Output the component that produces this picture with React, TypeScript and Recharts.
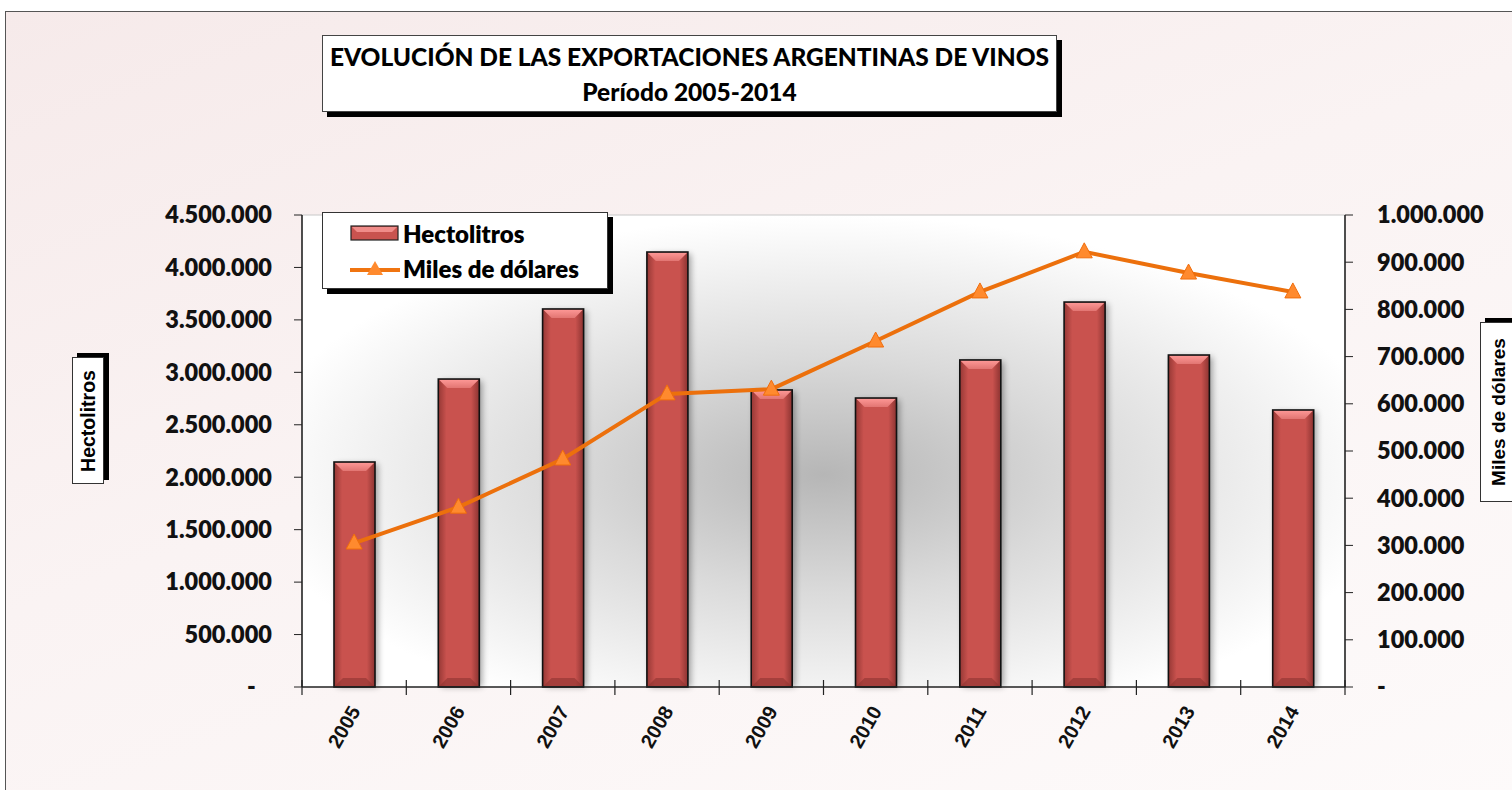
import React from "react";
import {
  ComposedChart,
  Bar,
  Line,
  XAxis,
  YAxis,
  CartesianGrid,
  Legend,
  ReferenceLine,
} from "recharts";

const years = ["2005", "2006", "2007", "2008", "2009", "2010", "2011", "2012", "2013", "2014"];
const hectolitros = [2145000, 2936000, 3604000, 4147000, 2832000, 2755000, 3118000, 3670000, 3165000, 2641000];
const milesDolares = [305000, 381000, 483000, 621000, 631000, 733000, 837000, 922000, 877000, 837000];
const leftTicks = [0, 500000, 1000000, 1500000, 2000000, 2500000, 3000000, 3500000, 4000000, 4500000];
const rightTicks = [0, 100000, 200000, 300000, 400000, 500000, 600000, 700000, 800000, 900000, 1000000];

const W = 1512;
const H = 790;
const PLOT_LEFT = 302;
const PLOT_RIGHT = 1345;
const HALF_BAND = (PLOT_RIGHT - PLOT_LEFT) / years.length / 2;

const calibri = "Lato, 'Open Sans', sans-serif";
const arial = "'Liberation Sans', Arial, sans-serif";

const fmt = (v: number) => {
  if (v === 0) return "-";
  return String(v).replace(/\B(?=(\d{3})+(?!\d))/g, ".");
};

const data = years.map((y, i) => ({
  year: y,
  hl: hectolitros[i],
  usd: milesDolares[i],
}));

function BevelBar(props: any) {
  const { x, y, width, height } = props;
  if (!height || height <= 0) return null;
  const b = Math.min(9, width / 4);
  return (
    <g>
      <rect x={x + 3} y={y + 2} width={width} height={height - 2} fill="#000" opacity={0.35} filter="url(#barShadow)" />
      <rect x={x} y={y} width={width} height={height} fill="url(#barBody)" />
      <polygon
        points={`${x},${y} ${x + width},${y} ${x + width - b},${y + b} ${x + b},${y + b}`}
        fill="url(#barTop)"
      />
      <polygon
        points={`${x},${y + height} ${x + width},${y + height} ${x + width - b},${y + height - b} ${x + b},${y + height - b}`}
        fill="#8e3431"
        opacity={0.6}
      />
      <rect x={x} y={y} width={width} height={height} fill="none" stroke="#111" strokeWidth={1.6} />
    </g>
  );
}

function TriangleDot(props: any) {
  const { cx, cy } = props;
  if (cx == null || cy == null) return null;
  return (
    <polygon
      points={`${cx},${cy - 9} ${cx + 8},${cy + 6} ${cx - 8},${cy + 6}`}
      fill="#ff8a2e"
      stroke="#f06d0c"
      strokeWidth={1}
    />
  );
}

function YearTick(props: any) {
  const { x, y, payload, index } = props;
  return (
    <g>
      <line x1={x - HALF_BAND} y1={y - 7} x2={x - HALF_BAND} y2={y + 8} stroke="#222" strokeWidth={1.2} />
      {index === years.length - 1 && (
        <line x1={x + HALF_BAND} y1={y - 7} x2={x + HALF_BAND} y2={y + 8} stroke="#222" strokeWidth={1.2} />
      )}
      <text
        x={x + 7}
        y={y + 24}
        textAnchor="end"
        transform={`rotate(-60, ${x + 7}, ${y + 24})`}
        fontFamily={arial}
        fontWeight="bold"
        fontSize={20}
        fill="#111"
      >
        {payload.value}
      </text>
    </g>
  );
}

function LegendBox() {
  return (
    <div
      style={{
        width: 286,
        height: 77,
        background: "#fff",
        border: "1px solid #333",
        boxShadow: "5px 5px 0 #000",
        fontFamily: calibri,
        fontWeight: 800,
        fontSize: 24,
        color: "#000",
        boxSizing: "border-box",
        paddingLeft: 27,
        paddingTop: 3,
      }}
    >
      <div style={{ display: "flex", alignItems: "center", height: 34 }}>
        <svg width={50} height={18} style={{ marginRight: 3 }}>
          <rect x={1} y={2} width={47} height={14} fill="#c9534f" stroke="#222" strokeWidth={1.2} />
          <polygon points="2,3 47,3 42,8 7,8" fill="#f08c89" />
        </svg>
        Hectolitros
      </div>
      <div style={{ display: "flex", alignItems: "center", height: 36 }}>
        <svg width={50} height={20} style={{ marginRight: 3 }}>
          <line x1={0} y1={12} x2={50} y2={12} stroke="#f07410" strokeWidth={4} />
          <polygon points="25,3 33,17 17,17" fill="#ff8a2e" />
        </svg>
        Miles de dólares
      </div>
    </div>
  );
}

export default function App() {
  return (
    <div style={{ position: "absolute", left: 0, top: 0, width: W, height: H, background: "#fff", overflow: "hidden" }}>
      <div
        style={{
          position: "absolute",
          left: 5,
          top: 11,
          width: W,
          height: H,
          borderTop: "1.5px solid #555",
          borderLeft: "1.5px solid #555",
          background: "linear-gradient(160deg, #f6eaea 0%, #faf3f3 45%, #fdfafa 100%)",
        }}
      />
      <div
        style={{
          position: "absolute",
          left: 322,
          top: 35,
          width: 735,
          height: 77,
          background: "#fff",
          border: "1px solid #444",
          boxShadow: "5px 5px 0 #000",
          boxSizing: "border-box",
          fontFamily: calibri,
          fontWeight: 900,
          fontSize: 24.5,
          color: "#000",
          textAlign: "center",
          lineHeight: "35px",
          paddingTop: 3,
        }}
      >
        <div>EVOLUCIÓN DE LAS EXPORTACIONES ARGENTINAS DE VINOS</div>
        <div>Período 2005-2014</div>
      </div>
      <div style={{ position: "absolute", left: 0, top: 0 }}>
        <ComposedChart
          width={W}
          height={H}
          data={data}
          margin={{ top: 215, right: W - PLOT_RIGHT - 120, bottom: 43, left: 0 }}
        >
          <defs>
            <radialGradient id="plotBg" cx="50%" cy="55%" r="55%">
              <stop offset="0%" stopColor="#b6b6b6" />
              <stop offset="45%" stopColor="#dadada" />
              <stop offset="100%" stopColor="#ffffff" />
            </radialGradient>
            <linearGradient id="barBody" x1="0" y1="0" x2="1" y2="0">
              <stop offset="0%" stopColor="#963835" />
              <stop offset="20%" stopColor="#c9524e" />
              <stop offset="80%" stopColor="#c9524e" />
              <stop offset="100%" stopColor="#8c3331" />
            </linearGradient>
            <linearGradient id="barTop" x1="0" y1="0" x2="0" y2="1">
              <stop offset="0%" stopColor="#ff9a98" />
              <stop offset="100%" stopColor="#e27572" />
            </linearGradient>
            <filter id="barShadow" x="-50%" y="-10%" width="200%" height="120%">
              <feGaussianBlur stdDeviation="3" />
            </filter>
          </defs>
          <CartesianGrid horizontal={false} vertical={false} fill="url(#plotBg)" />
          <XAxis
            dataKey="year"
            tick={<YearTick />}
            tickLine={false}
            tickSize={0}
            tickMargin={0}
            height={60}
            interval={0}
            axisLine={{ stroke: "#222", strokeWidth: 1.6 }}
          />
          <YAxis
            yAxisId="left"
            width={PLOT_LEFT}
            domain={[0, 4500000]}
            ticks={leftTicks}
            tickFormatter={(v: number) => (v === 0 ? "-\u00a0\u00a0\u00a0" : fmt(v))}
            tickSize={8}
            tickMargin={22}
            axisLine={{ stroke: "#222", strokeWidth: 1.6 }}
            tickLine={{ stroke: "#222" }}
            tick={{ fontFamily: calibri, fontWeight: 800, fontSize: 23.5, fill: "#111" }}
          />
          <YAxis
            yAxisId="right"
            orientation="right"
            width={120}
            domain={[0, 1000000]}
            ticks={rightTicks}
            tickFormatter={fmt}
            tickSize={8}
            tickMargin={24}
            axisLine={{ stroke: "#222", strokeWidth: 1.6 }}
            tickLine={{ stroke: "#222" }}
            tick={{ fontFamily: calibri, fontWeight: 800, fontSize: 23.5, fill: "#111", textAnchor: "start" }}
          />
          <ReferenceLine yAxisId="left" y={4500000} stroke="#c8c8c8" strokeWidth={1} />
          <Bar
            yAxisId="left"
            dataKey="hl"
            name="Hectolitros"
            barSize={41}
            shape={<BevelBar />}
            isAnimationActive={false}
          />
          <Line
            yAxisId="right"
            dataKey="usd"
            name="Miles de dólares"
            type="linear"
            stroke="#ec700c"
            strokeWidth={4}
            dot={<TriangleDot />}
            activeDot={false}
            isAnimationActive={false}
          />
          <Legend
            layout="vertical"
            align="center"
            verticalAlign="middle"
            content={() => <LegendBox />}
            wrapperStyle={{ position: "absolute", left: 322, top: 212, width: 292, height: 84 }}
          />
        </ComposedChart>
      </div>
      <div
        style={{
          position: "absolute",
          left: 72,
          top: 357,
          width: 32,
          height: 127,
          background: "#fff",
          border: "1px solid #333",
          boxShadow: "5px -4px 0 #000",
          boxSizing: "border-box",
        }}
      >
        <div
          style={{
            position: "absolute",
            left: "50%",
            top: "50%",
            transform: "translate(-50%, -50%) rotate(-90deg)",
            fontFamily: arial,
            fontWeight: 700,
            fontSize: 19.5,
            whiteSpace: "nowrap",
          }}
        >
          Hectolitros
        </div>
      </div>
      <div
        style={{
          position: "absolute",
          left: 1480,
          top: 322,
          width: 40,
          height: 180,
          background: "#fff",
          border: "1px solid #333",
          boxShadow: "5px -4px 0 #000",
          boxSizing: "border-box",
        }}
      >
        <div
          style={{
            position: "absolute",
            left: 18,
            top: "50%",
            transform: "translate(-50%, -50%) rotate(-90deg)",
            fontFamily: arial,
            fontWeight: 700,
            fontSize: 19,
            whiteSpace: "nowrap",
          }}
        >
          Miles de dólares
        </div>
      </div>
    </div>
  );
}
